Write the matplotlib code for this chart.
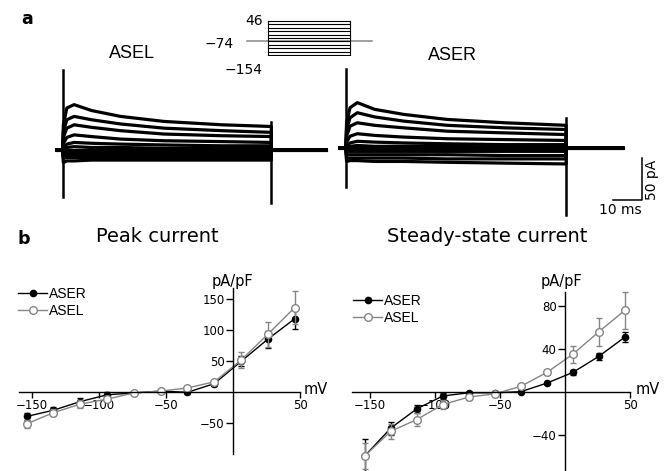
import numpy as np
import matplotlib.pyplot as plt

W, H = 665, 471
GREY = '#858585'

# ---- panel a: recorded traces (pA), one row per voltage step ----
steps = [-154, -134, -114, -94, -74, -54, -34, -14, 6, 26, 46]

asel_t = [0.3, 1.5, 4, 10, 20, 35, 55, 72]
asel_tr = [
    [-15, -13, -13, -12, -12, -12, -12, -12],
    [-10, -9, -9, -9, -9, -9, -9, -9],
    [-7, -6, -6, -6, -6, -6, -6, -6],
    [-4, -4, -3, -3, -3, -3, -3, -3],
    [0, 0, 0, 0, 0, 0, 0, 0],
    [1, 3, 4, 3, 3, 2, 2, 2],
    [3, 7, 9, 8, 7, 6, 5, 5],
    [8, 15, 18, 16, 13, 11, 10, 9],
    [15, 26, 30, 27, 23, 19, 17, 16],
    [22, 36, 40, 36, 31, 26, 23, 21],
    [30, 50, 54, 47, 40, 34, 30, 28],
]
asel_tail = 91
asel_spikes = [(0, -56, 95), (72, -63, 33)]

aser_t = [0.3, 1.5, 4, 10, 20, 35, 55, 76]
aser_tr = [
    [-16, -15, -15, -16, -16, -17, -18, -19],
    [-12, -12, -12, -12, -12, -13, -13, -13],
    [-8, -8, -8, -8, -8, -8, -9, -9],
    [-4, -4, -4, -4, -4, -4, -4, -4],
    [0, 0, 0, 0, 0, 0, 0, 0],
    [1, 2, 3, 2, 2, 2, 1, 1],
    [3, 6, 8, 7, 6, 5, 4, 4],
    [7, 14, 17, 15, 13, 11, 10, 9],
    [14, 26, 30, 27, 24, 20, 18, 16],
    [22, 36, 42, 37, 32, 27, 24, 22],
    [30, 48, 54, 46, 40, 34, 30, 27],
]
aser_tail = 95.5
aser_spikes = [(0, -46, 94), (76, -80, 36)]

# ---- panel b: I-V data (pA/pF) ----
mv = [-154, -134, -114, -94, -74, -54, -34, -14, 6, 26, 46]
peak_aser = [-40, -30, -16, -5, -2, 1, -1, 13, 49, 85, 118]
peak_aser_err = [6, 5, 5, 4, 2, 2, 2, 3, 8, 14, 16]
peak_asel = [-52, -34, -20, -12, -2, 1, 6, 16, 51, 93, 136]
peak_asel_err = [7, 6, 6, 5, 2, 2, 3, 3, 13, 20, 27]

ss_aser = [-60, -34, -16, -4, -1, -1, 0, 8, 18, 33, 51]
ss_aser_err = [16, 6, 4, 3, 1, 1, 1, 1, 2, 3, 5]
ss_asel = [-60, -37, -26, -12, -5, -2, 5, 18, 35, 56, 76]
ss_asel_err = [12, 7, 6, 4, 3, 2, 2, 2, 8, 13, 17]

fig = plt.figure(figsize=(W / 100, H / 100), dpi=100)


def axes_at(ox, oy, sx, sy, xlim, ylim):
    # place an axes so that data (0,0) sits at pixel (ox, oy)
    x0 = ox + xlim[0] * sx
    x1 = ox + xlim[1] * sx
    y0 = oy - ylim[1] * sy
    y1 = oy - ylim[0] * sy
    ax = fig.add_axes([x0 / W, 1 - y1 / H, (x1 - x0) / W, (y1 - y0) / H])
    ax.set_xlim(xlim)
    ax.set_ylim(ylim)
    return ax


def ftext(x, y, s, **kw):
    fig.text(x / W, 1 - y / H, s, **kw)


def draw_traces(ax, tk, rows, tail, spikes):
    for r in rows:
        t = [-2, 0] + tk + [tk[-1], tail]
        v = [0, 0] + r + [0, 0]
        ax.plot(t, v, color='black', lw=2.3, solid_joinstyle='round')
    for ts, lo, hi in spikes:
        ax.plot([ts, ts], [lo, hi], color='black', lw=1.8)
    ax.axis('off')


ax_l = axes_at(62.5, 150, 2.9, 0.84, (-3, 93), (-80, 100))
draw_traces(ax_l, asel_t, asel_tr, asel_tail, asel_spikes)

ax_r = axes_at(345.7, 148, 2.9, 0.84, (-3, 106), (-85, 100))
draw_traces(ax_r, aser_t, aser_tr, aser_tail, aser_spikes)
# scale bar 10 ms / 50 pA
ax_r.plot([92.2, 102.2, 102.2], [-62, -62, -12], color='black', lw=1.1)
ftext(652, 180, '50 pA', rotation=90, ha='center', va='center', fontsize=10, family='DejaVu Sans')
ftext(620, 210, '10 ms', ha='center', va='center', fontsize=10, family='DejaVu Sans')

# voltage protocol
ax_p = axes_at(268, 21 + 46 * 0.17, 1.139, 0.17, (-20, 93), (-160, 50))
ax_p.plot([-18, 91], [-74, -74], color=GREY, lw=1.1)
for s in steps:
    ax_p.plot([0, 72], [s, s], color='black', lw=0.8)
ax_p.plot([0, 0], [-154, 46], color='black', lw=0.8)
ax_p.plot([72, 72], [-154, 46], color='black', lw=0.8)
ax_p.axis('off')
ftext(263, 21, '46', ha='right', va='center', fontsize=10, family='DejaVu Sans')
ftext(234, 44, '\u221274', ha='right', va='center', fontsize=10, family='DejaVu Sans')
ftext(263, 70, '\u2212154', ha='right', va='center', fontsize=10, family='DejaVu Sans')

ftext(27, 19, 'a', ha='center', va='center', fontsize=12.5, fontweight='bold', family='DejaVu Sans')
ftext(132, 53, 'ASEL', ha='center', va='center', fontsize=13, family='Liberation Sans')
ftext(452, 55, 'ASER', ha='center', va='center', fontsize=13, family='Liberation Sans')

# ---- panel b ----
ftext(24, 239, 'b', ha='center', va='center', fontsize=12.5, fontweight='bold', family='DejaVu Sans')
ftext(157, 236, 'Peak current', ha='center', va='center', fontsize=14, family='DejaVu Sans')
ftext(487, 236, 'Steady-state current', ha='center', va='center', fontsize=14, family='DejaVu Sans')


def iv_axes(ax, xb, yb, yticks, x_aser, e_aser, x_asel, e_asel, leg_xy, mvx, unit_xy):
    for sp in ['top', 'right']:
        ax.spines[sp].set_visible(False)
    ax.spines['left'].set_position(('data', 0))
    ax.spines['bottom'].set_position(('data', 0))
    ax.spines['bottom'].set_bounds(*xb)
    ax.spines['left'].set_bounds(*yb)
    for sp in ['left', 'bottom']:
        ax.spines[sp].set_linewidth(1.0)
    ax.patch.set_visible(False)
    ax.set_xticks([-150, -100, -50, 50])
    ax.set_xticklabels(['\u2212150', '\u2212100', '\u221250', '50'])
    ax.set_yticks(yticks)
    ax.set_yticklabels([('\u2212%d' % -v) if v < 0 else str(v) for v in yticks])
    ax.tick_params(axis='x', length=4, width=1, pad=1, labelsize=8.5)
    ax.tick_params(axis='y', length=5, width=1, pad=1, labelsize=8.5)
    for lab in ax.get_xticklabels() + ax.get_yticklabels():
        lab.set_family('DejaVu Sans')

    ax.errorbar(mv, x_aser, yerr=e_aser, fmt='none', ecolor='black', elinewidth=1, capsize=2, capthick=1)
    l1, = ax.plot(mv, x_aser, color='black', lw=1, marker='o', ms=4.5, mfc='black', mec='black')
    ax.errorbar(mv, x_asel, yerr=e_asel, fmt='none', ecolor=GREY, elinewidth=1, capsize=2, capthick=1)
    l2, = ax.plot(mv, x_asel, color=GREY, lw=1, marker='o', ms=5.5, mfc='white', mec=GREY, mew=1)

    ax.legend([l1, l2], ['ASER', 'ASEL'], loc='upper left',
              bbox_to_anchor=(leg_xy[0] / W, 1 - leg_xy[1] / H), bbox_transform=fig.transFigure,
              frameon=False, handlelength=2.1, handletextpad=0.15, labelspacing=0.2,
              borderpad=0, borderaxespad=0, prop={'family': 'Liberation Sans', 'size': 10})
    ftext(mvx[0], mvx[1], 'mV', ha='left', va='center', fontsize=10.5, family='DejaVu Sans')
    ftext(unit_xy[0], unit_xy[1], 'pA/pF', ha='center', va='bottom', fontsize=10.5, family='DejaVu Sans')


ax1 = axes_at(233, 391.7, 1.34, 0.618, (-165, 55), (-100, 170))
iv_axes(ax1, (-160, 50), (-100, 168), [150, 100, 50, -50],
        peak_aser, peak_aser_err, peak_asel, peak_asel_err,
        (18, 287), (304, 390), (232, 289))

ax2 = axes_at(565, 391.7, 1.3, 1.07, (-168, 52), (-76, 95))
iv_axes(ax2, (-164, 50), (-76, 93), [80, 40, -40],
        ss_aser, ss_aser_err, ss_asel, ss_asel_err,
        (353, 294), (636, 390), (561, 289))

fig.savefig('out.png', dpi=100)
